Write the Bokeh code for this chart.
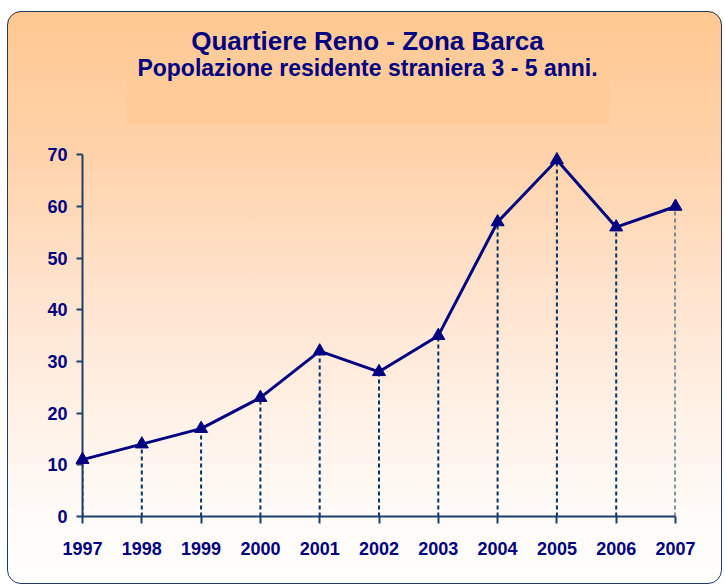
from bokeh.plotting import figure
from bokeh.models import Range1d, FixedTicker, Label, BoxAnnotation, ColumnDataSource
from bokeh.embed import file_html
from bokeh.resources import INLINE

# ---- data ----
years = [1997, 1998, 1999, 2000, 2001, 2002, 2003, 2004, 2005, 2006, 2007]
values = [11, 14, 17, 23, 32, 28, 35, 57, 69, 56, 60]
y_ticks = [0, 10, 20, 30, 40, 50, 60, 70]
title_text = "Quartiere Reno - Zona Barca"
subtitle_text = "Popolazione residente straniera 3 - 5 anni."

NAVY = "#000080"
AXIS = "#1F3F6B"
FONT = "Liberation Sans"

W, H = 715, 573
Y_TOP = 96  # frame extends above the axis so the title sits inside it

p = figure(width=W, height=H, output_backend="svg", toolbar_location=None,
           x_range=Range1d(years[0], years[-1]), y_range=Range1d(y_ticks[0], Y_TOP),
           min_border_left=75, min_border_right=47, min_border_top=9, min_border_bottom=68)

p.background_fill_alpha = 0
p.border_fill_alpha = 0
p.outline_line_color = None
p.grid.visible = False

p.styles = {
    "background": "linear-gradient(to bottom, #FFC891 0%, #FFD3AA 25%, #FFE4CF 50%, #FFF2E8 72%, #FFFBF8 88%, #FFFEFD 100%)",
    "border-radius": "14px",
    "outline": "1.5px solid #1F3864",
    "outline-offset": "-1.5px",
    "margin-top": "11px",
    "margin-left": "7px",
}

src = ColumnDataSource(data=dict(x=years, y=values, y0=[0] * len(years)))

# dashed drop lines
p.segment(x0="x", y0="y0", x1="x", y1="y", source=src, line_color="#003366",
          line_width=2, line_dash="4 3")

ln = p.line(x="x", y="y", source=src, line_color=NAVY, line_width=3)
ln.level = "overlay"
sc = p.scatter(x="x", y="y", source=src, marker="triangle", size=13,
               fill_color=NAVY, line_color=NAVY)
sc.level = "overlay"

# axes
p.xaxis.ticker = FixedTicker(ticks=years)
p.yaxis.ticker = FixedTicker(ticks=y_ticks)
p.yaxis.bounds = (y_ticks[0], y_ticks[-1])
for ax in (p.xaxis[0], p.yaxis[0]):
    ax.axis_line_color = AXIS
    ax.axis_line_width = 2
    ax.major_tick_line_color = AXIS
    ax.major_tick_line_width = 2
    ax.major_tick_in = 0
    ax.minor_tick_line_color = None
    ax.major_label_text_font = FONT
    ax.major_label_text_font_style = "bold"
    ax.major_label_text_font_size = "18px"
    ax.major_label_text_color = NAVY
p.xaxis.major_tick_out = 7
p.xaxis.major_label_standoff = 18
p.yaxis.major_tick_out = 6
p.yaxis.major_label_standoff = 9

# title box (screen units: relative to the plot frame, y upward from its bottom)
box = BoxAnnotation(left=44, right=527, top=473, bottom=392,
                    left_units="screen", right_units="screen",
                    top_units="screen", bottom_units="screen",
                    fill_color="#FECB99", fill_alpha=1.0, line_color=None)
p.add_layout(box)

t1 = Label(x=285, y=476, x_units="screen", y_units="screen", text=title_text,
           text_align="center", text_baseline="alphabetic", text_font=FONT,
           text_font_style="bold", text_font_size="26px", text_color=NAVY)
t2 = Label(x=285, y=449, x_units="screen", y_units="screen", text=subtitle_text,
           text_align="center", text_baseline="alphabetic", text_font=FONT,
           text_font_style="bold", text_font_size="23px", text_color=NAVY)
p.add_layout(t1)
p.add_layout(t2)

open("out.html", "w").write(file_html(p, INLINE))
